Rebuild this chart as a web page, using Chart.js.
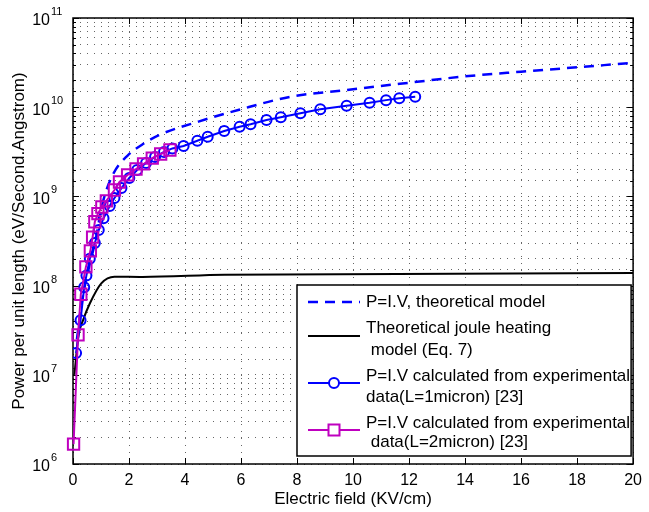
<!DOCTYPE html>
<html lang="en">
<head>
    <meta charset="UTF-8">
    <title>Power per unit length vs electric field</title>
    <script src="https://cdn.jsdelivr.net/npm/chart.js"></script>
    <style>
        body { margin: 0; background: #fff; }
    </style>
</head>
<body>
    <canvas id="powerChart" width="649" height="512"></canvas>

    <script>
        // theoretical model P = I.V (dashed)
        const theoryField = [0.14, 0.31, 0.55, 0.78, 1.07, 1.45, 1.95, 2.56, 3.07, 4.48, 5.9, 7.77, 9.77, 12.0, 13.9, 16.0, 18.0, 20.0];
        const theoryPower = [2.5e7, 6.4e7, 1.5e8, 3.0e8, 8.7e8, 1.82e9, 2.87e9, 3.97e9, 4.87e9, 6.9e9, 9.3e9, 1.31e10, 1.56e10, 1.88e10, 2.2e10, 2.5e10, 2.8e10, 3.15e10];

        // theoretical joule heating model (Eq. 7)
        const jouleField = [0.05, 0.2, 0.36, 0.6, 1.01, 1.48, 2.48, 5.42, 20];
        const joulePower = [1.0e7, 2.8e7, 4.1e7, 6.3e7, 1.06e8, 1.26e8, 1.25e8, 1.32e8, 1.38e8];

        // experimental, L = 1 micron
        const exp1Field = [0.11, 0.27, 0.40, 0.48, 0.60, 0.78, 0.92, 1.09, 1.31, 1.48, 1.73, 2.01, 2.29, 2.61, 2.93, 3.25, 3.55, 3.95, 4.44, 4.81, 5.40, 5.95, 6.34, 6.91, 7.42, 8.12, 8.83, 9.77, 10.59, 11.18, 11.65, 12.22];
        const exp1Power = [1.75e7, 4.1e7, 9.6e7, 1.3e8, 2.0e8, 3.0e8, 4.2e8, 5.7e8, 7.8e8, 9.6e8, 1.24e9, 1.61e9, 1.98e9, 2.37e9, 2.77e9, 3.15e9, 3.45e9, 3.67e9, 4.21e9, 4.67e9, 5.41e9, 6.04e9, 6.43e9, 7.19e9, 7.71e9, 8.55e9, 9.46e9, 1.04e10, 1.12e10, 1.20e10, 1.26e10, 1.31e10];

        // experimental, L = 2 micron
        const exp2Field = [0.02, 0.18, 0.28, 0.46, 0.62, 0.70, 0.78, 0.89, 1.03, 1.19, 1.48, 1.66, 1.95, 2.25, 2.52, 2.83, 3.13, 3.46];
        const exp2Power = [1.67e6, 2.8e7, 8.0e7, 1.62e8, 2.45e8, 3.5e8, 5.2e8, 6.4e8, 7.6e8, 8.9e8, 1.18e9, 1.45e9, 1.74e9, 2.03e9, 2.31e9, 2.69e9, 2.99e9, 3.31e9];

        const xTicks = [0, 2, 4, 6, 8, 10, 12, 14, 16, 18, 20];
        const yDecades = [6, 7, 8, 9, 10, 11];

        const legendLines = [
            ["P=I.V, theoretical model"],
            ["Theoretical joule heating", " model (Eq. 7)"],
            ["P=I.V calculated from experimental", "data(L=1micron) [23]"],
            ["P=I.V calculated from experimental", " data(L=2micron) [23]"]
        ];

        const FONT = "'Liberation Sans', Arial, sans-serif";
        const BLUE = "#0000ff";
        const MAGENTA = "#bf00bf";

        function pts(xs, ys) {
            return xs.map((x, i) => ({ x: x, y: ys[i] }));
        }

        // frame, inward ticks, y labels with exponents, legend
        const decorPlugin = {
            id: "decor",
            beforeDatasetsDraw(chart) {
                const ctx = chart.ctx;
                const a = chart.chartArea;
                const xs = chart.scales.x, ys = chart.scales.y;
                ctx.save();
                ctx.strokeStyle = "#000";
                ctx.lineWidth = 1;
                ctx.beginPath();
                xTicks.forEach(v => {
                    const px = Math.round(xs.getPixelForValue(v)) + 0.5;
                    ctx.moveTo(px, a.bottom); ctx.lineTo(px, a.bottom - 6);
                    ctx.moveTo(px, a.top); ctx.lineTo(px, a.top + 6);
                });
                ys.ticks.forEach(t => {
                    const py = Math.round(ys.getPixelForValue(t.value)) + 0.5;
                    const len = Math.abs(Math.log10(t.value) % 1) < 1e-6 ? 6 : 3;
                    ctx.moveTo(a.left, py); ctx.lineTo(a.left + len, py);
                    ctx.moveTo(a.right, py); ctx.lineTo(a.right - len, py);
                });
                ctx.stroke();
                ctx.lineWidth = 1.5;
                ctx.strokeRect(a.left, a.top, a.right - a.left, a.bottom - a.top);

                // y labels 10^n
                ctx.fillStyle = "#000";
                ctx.textBaseline = "middle";
                yDecades.forEach(e => {
                    const py = ys.getPixelForValue(Math.pow(10, e));
                    ctx.font = "16px " + FONT;
                    ctx.textAlign = "right";
                    ctx.fillText("10", 50, py + 3);
                    ctx.font = "11px " + FONT;
                    ctx.textAlign = "left";
                    ctx.fillText(String(e), 51, py - 6);
                });
                ctx.restore();
            },
            afterDraw(chart) {
                const ctx = chart.ctx;
                const a = chart.chartArea;
                const box = { left: 297, top: 285, right: a.right - 2, bottom: 456 };
                ctx.save();
                ctx.fillStyle = "#fff";
                ctx.fillRect(box.left, box.top, box.right - box.left, box.bottom - box.top);
                ctx.strokeStyle = "#000";
                ctx.lineWidth = 1.5;
                ctx.strokeRect(box.left, box.top, box.right - box.left, box.bottom - box.top);

                const x0 = 308, x1 = 360, xm = 334, tx = 366;
                const sampleY = [302, 336, 383, 430];
                const textY = [[302], [328, 350], [376, 397], [423, 442]];

                // dashed theory
                ctx.strokeStyle = BLUE; ctx.lineWidth = 2.5; ctx.setLineDash([10, 7]);
                ctx.beginPath(); ctx.moveTo(x0, sampleY[0]); ctx.lineTo(x1, sampleY[0]); ctx.stroke();
                ctx.setLineDash([]);
                // joule
                ctx.strokeStyle = "#000"; ctx.lineWidth = 2;
                ctx.beginPath(); ctx.moveTo(x0, sampleY[1]); ctx.lineTo(x1, sampleY[1]); ctx.stroke();
                // L=1
                ctx.strokeStyle = BLUE;
                ctx.beginPath(); ctx.moveTo(x0, sampleY[2]); ctx.lineTo(x1, sampleY[2]); ctx.stroke();
                ctx.fillStyle = "#fff";
                ctx.beginPath(); ctx.arc(xm, sampleY[2], 5, 0, Math.PI * 2); ctx.fill(); ctx.stroke();
                // L=2
                ctx.strokeStyle = MAGENTA;
                ctx.beginPath(); ctx.moveTo(x0, sampleY[3]); ctx.lineTo(x1, sampleY[3]); ctx.stroke();
                ctx.fillRect(xm - 5.5, sampleY[3] - 5.5, 11, 11);
                ctx.strokeRect(xm - 5.5, sampleY[3] - 5.5, 11, 11);

                ctx.fillStyle = "#000";
                ctx.font = "17px " + FONT;
                ctx.textAlign = "left";
                ctx.textBaseline = "middle";
                legendLines.forEach((lines, i) => {
                    lines.forEach((s, j) => ctx.fillText(s, tx, textY[i][j]));
                });
                ctx.restore();
            }
        };

        const ctx = document.getElementById("powerChart").getContext("2d");
        const powerChart = new Chart(ctx, {
            type: "scatter",
            data: {
                datasets: [
                    {
                        label: "P=I.V calculated from experimental data(L=2micron) [23]",
                        data: pts(exp2Field, exp2Power),
                        showLine: true,
                        borderColor: MAGENTA,
                        backgroundColor: "rgba(0,0,0,0)",
                        borderWidth: 2,
                        pointStyle: "rect",
                        pointRadius: 8,
                        pointBorderWidth: 2,
                        clip: false
                    },
                    {
                        label: "P=I.V calculated from experimental data(L=1micron) [23]",
                        data: pts(exp1Field, exp1Power),
                        showLine: true,
                        borderColor: BLUE,
                        backgroundColor: "rgba(0,0,0,0)",
                        borderWidth: 2,
                        pointStyle: "circle",
                        pointRadius: 5,
                        pointBorderWidth: 2
                    },
                    {
                        label: "Theoretical joule heating model (Eq. 7)",
                        data: pts(jouleField, joulePower),
                        showLine: true,
                        borderColor: "#000",
                        borderWidth: 2,
                        pointRadius: 0,
                        cubicInterpolationMode: "monotone"
                    },
                    {
                        label: "P=I.V, theoretical model",
                        data: pts(theoryField, theoryPower),
                        showLine: true,
                        borderColor: BLUE,
                        borderWidth: 2.5,
                        borderDash: [10, 7],
                        pointRadius: 0,
                        cubicInterpolationMode: "monotone"
                    }
                ]
            },
            options: {
                responsive: false,
                animation: false,
                layout: { padding: { top: 18, right: 9, left: 0, bottom: 0 } },
                plugins: { legend: { display: false }, tooltip: { enabled: false } },
                scales: {
                    x: {
                        type: "linear",
                        min: 0,
                        max: 20,
                        afterBuildTicks: s => { s.ticks = xTicks.map(v => ({ value: v })); },
                        ticks: { color: "#000", font: { size: 16, family: FONT }, padding: 7, maxRotation: 0 },
                        grid: { color: "#666", lineWidth: 1, drawTicks: false },
                        border: { display: false, dash: [1, 6] },
                        title: { display: true, text: "Electric field (KV/cm)", color: "#000", font: { size: 17, family: FONT }, padding: { top: 0, bottom: 2 } },
                        afterFit: s => { s.height = 48; }
                    },
                    y: {
                        type: "logarithmic",
                        min: 1e6,
                        max: 1e11,
                        ticks: { display: false, autoSkip: false },
                        grid: { color: "#666", lineWidth: 1, drawTicks: false },
                        border: { display: false, dash: [1, 6] },
                        title: { display: true, text: "Power per unit length (eV/Second.Angstrom)", color: "#000", font: { size: 17, family: FONT }, padding: { top: 9, bottom: 0 } },
                        afterFit: s => { s.width = 73; }
                    }
                }
            },
            plugins: [decorPlugin]
        });
    </script>
</body>
</html>
